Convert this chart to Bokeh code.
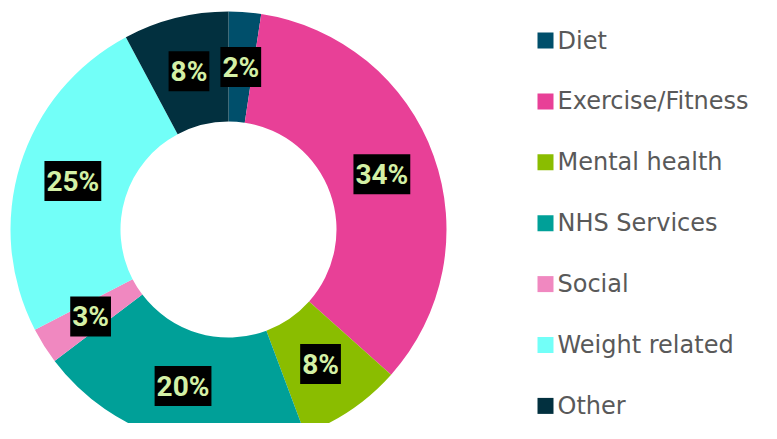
import math
from bokeh.plotting import figure
from bokeh.models import ColumnDataSource, Range1d
from bokeh.core.properties import value
from bokeh.embed import file_html
from bokeh.resources import INLINE

categories = ["Diet", "Exercise/Fitness", "Mental health", "NHS Services",
              "Social", "Weight related", "Other"]
shares = [2.4, 34.2, 7.7, 20.4, 2.7, 24.8, 7.8]
labels = ["2%", "34%", "8%", "20%", "3%", "25%", "8%"]
colors = ["#004f6b", "#e84097", "#8abd00", "#00a098", "#f088c0", "#72fff8", "#02303f"]

W, H = 761, 423
p = figure(width=W, height=H, output_backend="svg", toolbar_location=None,
           x_range=Range1d(0, W), y_range=Range1d(0, H),
           min_border=0)
p.axis.visible = False
p.grid.visible = False
p.outline_line_color = None
p.background_fill_color = "white"

# image coords -> data: x = x_img, y = H - y_img
cx, cy = 228, H - 229
r_out, r_in = 218, 108

total = sum(shares)
starts, ends, mids = [], [], []
cum = 0.0
for s in shares:
    a0 = math.pi / 2 - 2 * math.pi * cum / total
    cum += s
    a1 = math.pi / 2 - 2 * math.pi * cum / total
    starts.append(a0)
    ends.append(a1)
    mids.append((a0 + a1) / 2)

src = ColumnDataSource(dict(start=starts, end=ends, color=colors,
                            x=[cx] * len(shares), y=[cy] * len(shares)))
p.annular_wedge(x="x", y="y", inner_radius=r_in, outer_radius=r_out,
                start_angle="start", end_angle="end", direction="clock",
                fill_color="color", line_color=None, source=src)

r_lab = (r_out + r_in) / 2
lsrc = ColumnDataSource(dict(
    x=[cx + r_lab * math.cos(m) for m in mids],
    y=[cy + r_lab * math.sin(m) for m in mids],
    t=labels))
p.text(x="x", y="y", text="t", source=lsrc, text_align="center",
       text_baseline="middle", text_font=value("Roboto"),
       text_font_style="bold", text_font_size="28px", text_color="#d4f0a6",
       background_fill_color="black",
       padding=dict(left=2, right=2, top=4, bottom=3))

# legend
leg_y = [H - (40 + 60.9 * i) for i in range(len(categories))]
p.rect(x=[545] * len(categories), y=leg_y, width=16, height=16,
       fill_color=colors, line_color=None)
p.text(x=[557] * len(categories), y=leg_y, text=categories,
       text_align="left", text_baseline="middle",
       text_font=value("DejaVu Sans"), text_font_size="24px",
       text_color="#595959")

open("out.html", "w").write(file_html(p, INLINE))
